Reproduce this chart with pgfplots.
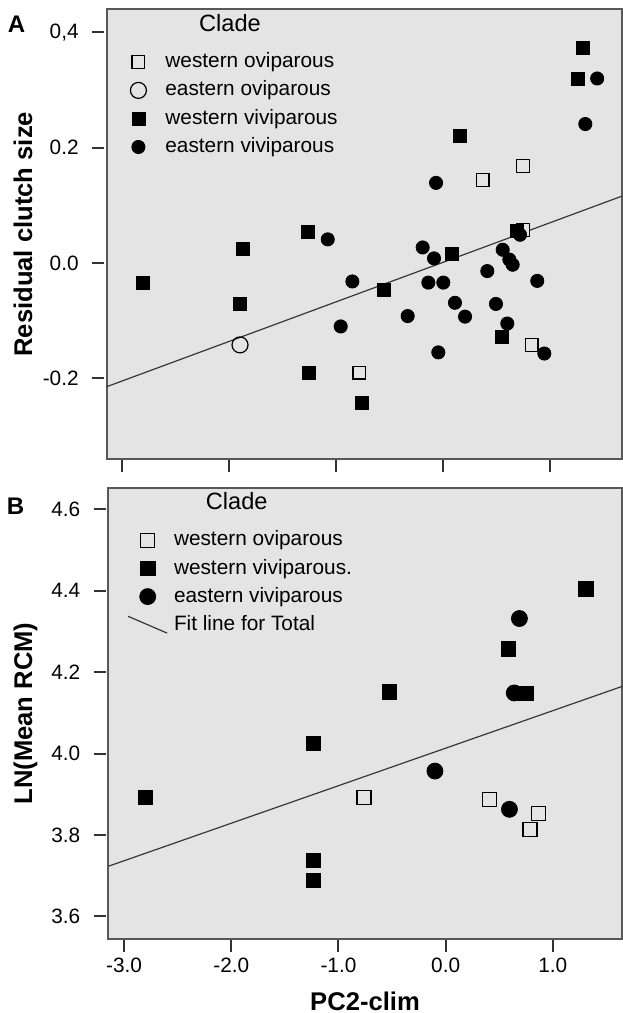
\documentclass[border=0pt]{standalone}
\usepackage{fontspec}
\setmainfont{Liberation Sans}
\usepackage{pgfplots}
\pgfplotsset{compat=1.18}

\definecolor{bgc}{RGB}{228,228,228}
\definecolor{framec}{RGB}{88,88,88}
\definecolor{tickc}{RGB}{50,50,50}
\definecolor{fitc}{RGB}{55,55,55}

\pgfplotsset{
  spss/.style={
    scale only axis,
    axis background/.style={fill=bgc},
    axis line style={draw=framec, line width=0.9pt},
    tick align=outside,
    major tick length=6pt,
    xtick pos=left, ytick pos=left,
    tick style={draw=tickc, line width=1pt},
    ytick style={xshift=-1.2pt},
    xtick style={yshift=-0.6pt},
    tick label style={font=\fontsize{10.4}{12}\selectfont},
    yticklabel style={xshift=-4.5pt},
    legend cell align=left,
    legend style={draw=none, fill=none, inner sep=0pt, row sep=0pt,
      anchor=north west,
      nodes={inner sep=0pt, text height=5.5pt, text depth=0pt,
        font=\fontsize{10.4}{12}\selectfont}},
  },
  opensq/.style={only marks, mark=square*, mark size=#1,
    mark options={fill=bgc, draw=black, line width=0.6pt}},
  fullsq/.style={only marks, mark=square*, mark size=#1,
    mark options={fill=black, draw=black}},
  fullci/.style={only marks, mark=*, mark size=#1,
    mark options={fill=black, draw=black}},
  openci/.style={only marks, mark=o, mark size=#1,
    mark options={fill=bgc, draw=black, line width=0.6pt}},
}

\begin{document}
\begin{tikzpicture}
\useasboundingbox (0,0) rectangle (311pt,506.5pt);

% panel A
\begin{axis}[spss,
  at={(53.35pt,276.85pt)}, anchor=south west,
  width=257.65pt, height=225pt,
  xmin=-3.143, xmax=1.673, ymin=-0.3404, ymax=0.440,
  xtick={-3,-2,-1,0,1}, xticklabels={,,,,},
  ytick={-0.2,0,0.2,0.4}, yticklabels={-0.2,0.0,0.2,{0,4}},
  legend style={at={(0.0375,0.915)}},
  legend image code/.code={\draw[#1] plot coordinates {(0pt,0pt)};
    \path[draw=none, fill=none] (-6pt,-7.075pt) rectangle (13.5pt,7.075pt);},
]
\addplot[fitc, line width=0.6pt, forget plot] coordinates {(-3.143,-0.2145) (1.673,0.116)};
\addplot[opensq=3.2pt] coordinates {
  (0.371,0.144) (0.745,0.168) (0.751,0.057) (0.829,-0.142) (-0.782,-0.190)};
\addlegendentry{western oviparous}
\addplot[openci=4pt] coordinates {(-1.897,-0.142)};
\addlegendentry{eastern oviparous}
\addplot[fullsq=3.25pt] coordinates {
  (-2.805,-0.035) (-1.867,0.024) (-1.897,-0.071) (-1.259,0.054) (-1.255,-0.190)
  (-0.754,-0.242) (-0.551,-0.047) (0.081,0.015) (0.154,0.220) (0.694,0.056)
  (0.548,-0.129) (1.311,0.373) (1.263,0.320)};
\addlegendentry{western viviparous}
\addplot[fullci=3.3pt] coordinates {
  (1.441,0.320) (1.330,0.241) (-0.065,0.139) (-1.077,0.041) (-0.847,-0.032)
  (-0.956,-0.110) (-0.330,-0.092) (-0.190,0.027) (-0.084,0.008) (-0.137,-0.034)
  (0.003,-0.034) (0.112,-0.069) (0.206,-0.093) (-0.044,-0.155) (0.414,-0.014)
  (0.558,0.023) (0.620,0.006) (0.651,-0.003) (0.495,-0.071) (0.601,-0.105)
  (0.720,0.049) (0.881,-0.031) (0.947,-0.157)};
\addlegendentry{eastern viviparous}
\end{axis}

% panel B
\begin{axis}[spss,
  at={(54.15pt,37.15pt)}, anchor=south west,
  width=256.85pt, height=225.2pt,
  xmin=-3.147, xmax=1.645, ymin=3.545, ymax=4.652,
  xtick={-3,-2,-1,0,1}, xticklabels={-3.0,-2.0,-1.0,0.0,1.0},
  ytick={3.6,3.8,4.0,4.2,4.4,4.6}, yticklabels={3.6,3.8,4.0,4.2,4.4,4.6},
  legend style={at={(0.0366,0.9164)}},
  legend image code/.code={\draw[#1] plot coordinates {(0pt,0pt)};
    \path[draw=none, fill=none] (-6pt,-7.025pt) rectangle (13.15pt,7.025pt);},
]
\addplot[fitc, line width=0.6pt, forget plot] coordinates {(-3.147,3.723) (1.645,4.165)};
\addplot[opensq=3.5pt] coordinates {
  (-0.762,3.893) (0.410,3.888) (0.865,3.852) (0.787,3.813)};
\addlegendentry{western oviparous}
\addplot[fullsq=3.6pt] coordinates {
  (-2.799,3.893) (-1.235,4.025) (-1.235,3.738) (-1.235,3.689) (-0.525,4.152)
  (0.584,4.257) (0.747,4.148) (1.309,4.405)};
\addlegendentry{western viviparous.}
\addplot[fullci=4pt] coordinates {
  (-0.100,3.957) (0.595,3.863) (0.640,4.149) (0.688,4.332)};
\addlegendentry{eastern viviparous}
\addlegendimage{legend image code/.code={
  \draw[fitc, line width=0.6pt] (-9.8pt,4.2pt) -- (9.7pt,-4.2pt);
  \path[draw=none, fill=none] (-6pt,-7.025pt) rectangle (13.15pt,7.025pt);}}
\addlegendentry{Fit line for Total}
\end{axis}

% titles and labels
\node[anchor=base west, font=\bfseries\fontsize{12}{14}\selectfont, inner sep=0pt] at (3.8pt,490pt) {A};
\node[anchor=base west, font=\bfseries\fontsize{12}{14}\selectfont, inner sep=0pt] at (3.2pt,249pt) {B};
\node[anchor=base, font=\fontsize{11.8}{14}\selectfont, inner sep=0pt] at (115pt,490.65pt) {Clade};
\node[anchor=base, font=\fontsize{11.8}{14}\selectfont, inner sep=0pt] at (118.35pt,251.5pt) {Clade};
\node[anchor=base, rotate=90, font=\bfseries\fontsize{12.8}{15}\selectfont, inner sep=0pt] at (16pt,389.35pt) {Residual clutch size};
\node[anchor=base, rotate=90, font=\bfseries\fontsize{12.8}{15}\selectfont, inner sep=0pt] at (16pt,149.75pt) {LN(Mean RCM)};
\node[anchor=base, font=\bfseries\fontsize{12.8}{15}\selectfont, inner sep=0pt] at (182.5pt,1.5pt) {PC2-clim};
\end{tikzpicture}
\end{document}
